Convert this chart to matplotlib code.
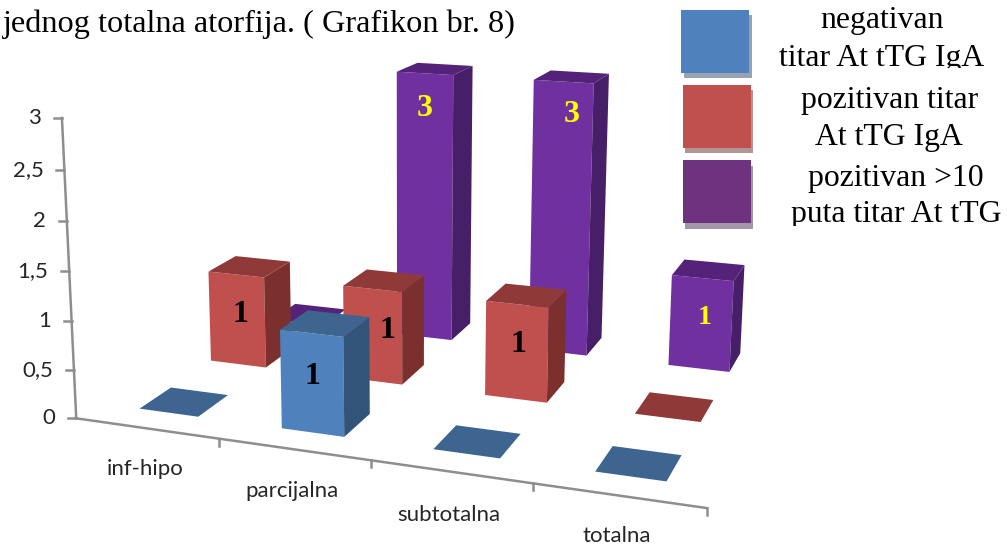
import numpy as np
import matplotlib
matplotlib.use("Agg")
import matplotlib.pyplot as plt
from matplotlib.patches import Polygon, Rectangle

# Data
categories = ["inf-hipo", "parcijalna", "subtotalna", "totalna"]
negativan = [0, 1, 0, 0]
pozitivan = [1, 1, 1, 0]
pozitivan_10 = [0, 3, 3, 1]
y_ticks = [0, 0.5, 1, 1.5, 2, 2.5, 3]
y_tick_labels = ["0", "0,5", "1", "1,5", "2", "2,5", "3"]

# Camera: (category, series, value) -> pixels, fitted to the picture
CAMERA = np.array([
    [135.5785, 90.3069, -5.6254, 76.2357],
    [6.5357, -18.2463, -101.7521, 418.3355],
    [-0.031313, 0.084597, -0.013887, 1.0],
])
HALF = 0.21  # half a bar width, in cells

# front, top, side
BAR_COLORS = [
    ("#4F81BD", "#3D6590", "#335479"),
    ("#C0504D", "#8F3A38", "#7B302E"),
    ("#7030A0", "#542379", "#461F68"),
]
AXIS_COLOR = "#8E8E8E"
LABEL_COLOR = "#262626"
SERIF = "Liberation Serif"


def proj(x, y, z):
    h = CAMERA @ np.array([x, y, z, 1.0])
    return h[0] / h[2], h[1] / h[2]


def draw_bar(ax, i, j, v):
    x0, x1 = i + 0.5 - HALF, i + 0.5 + HALF
    y0, y1 = j + 0.5 - HALF, j + 0.5 + HALF
    front, top, side = BAR_COLORS[j]
    if v > 0:
        ax.add_patch(Polygon([proj(x0, y0, 0), proj(x1, y0, 0), proj(x1, y0, v), proj(x0, y0, v)], fc=front, lw=0))
        ax.add_patch(Polygon([proj(x1, y0, 0), proj(x1, y1, 0), proj(x1, y1, v), proj(x1, y0, v)], fc=side, lw=0))
    ax.add_patch(Polygon([proj(x0, y0, v), proj(x1, y0, v), proj(x1, y1, v), proj(x0, y1, v)], fc=top, lw=0))


fig = plt.figure(figsize=(10.07, 5.45), dpi=100)
ax = fig.add_axes([0, 0, 1, 1])
ax.set_xlim(0, 1007)
ax.set_ylim(545, 0)
ax.axis("off")

# Back row first so the nearer bars cover it
for j, values in reversed(list(enumerate([negativan, pozitivan, pozitivan_10]))):
    for i, v in enumerate(values):
        draw_bar(ax, i, j, v)

# Axes
ax.plot(*zip(proj(0, 0, 0), proj(4, 0, 0)), color=AXIS_COLOR, lw=1.8)
ax.plot(*zip(proj(0, 0, 0), proj(0, 0, 3)), color=AXIS_COLOR, lw=1.8)
for tick, label in zip(y_ticks, y_tick_labels):
    px, py = proj(0, 0, tick)
    ax.plot([px - 8, px], [py, py], color=AXIS_COLOR, lw=1.8)
    ax.text(px - 21, py, label, family="Lato", fontsize=16, color=LABEL_COLOR, ha="right", va="center")
for i in range(1, 5):
    px, py = proj(i, 0, 0)
    ax.plot([px, px], [py, py + 7], color=AXIS_COLOR, lw=1.8)

# Category labels
label_x = [145, 292, 449, 617]
label_y = [475, 497, 521, 542]
for name, lx, ly in zip(categories, label_x, label_y):
    ax.text(lx, ly, name, family="Lato", fontsize=16, color=LABEL_COLOR, ha="center", va="baseline")

# Value labels on the bars
value_labels = [
    ("1", 240, 315, "black", 23),
    ("1", 312, 376, "black", 23),
    ("1", 387, 330, "black", 23),
    ("1", 518, 344, "black", 23),
    ("3", 425, 108, "#FFFF00", 23),
    ("3", 572, 115, "#FFFF00", 23),
    ("1", 705, 318, "#FFFF00", 20),
]
for s, lx, ly, c, size in value_labels:
    ax.text(lx, ly, s, family=SERIF, fontweight="bold", fontsize=size, color=c, ha="center", va="center")

# Heading
ax.text(3, 32, "jednog totalna atorfija. ( Grafikon br. 8)", family=SERIF, fontsize=23.2, color="black", va="baseline")

# Legend boxes
legend_boxes = [
    (681, 10, "#4F81BD", "#97A3B5", 3, 5),
    (683, 85, "#C0504D", "#B39595", 2, 5),
    (683, 160, "#6E327E", "#A097A9", 2, 6),
]
for bx, by, c, shadow, dx, dy in legend_boxes:
    ax.add_patch(Rectangle((bx + dx, by + dy), 68, 63, fc=shadow, lw=0))
    ax.add_patch(Rectangle((bx, by), 68, 63, fc=c, lw=0))

legend_lines = [
    ("negativan", 882, 28, None),
    ("titar At tTG IgA", 882, 66, 68),
    ("pozitivan titar", 890, 108, None),
    ("At tTG IgA", 889, 145, None),
    ("pozitivan >10", 896, 186, None),
    ("puta titar At tTG", 896, 222, 226),
]
for s, lx, ly, clip_bottom in legend_lines:
    t = ax.text(lx, ly, s, family=SERIF, fontsize=22.9, color="black", ha="center", va="baseline")
    if clip_bottom is not None:
        # the original text box cuts off the descenders
        t.set_clip_path(Rectangle((660, 0), 347, clip_bottom, transform=ax.transData))
        t.set_clip_on(True)

fig.savefig("out.png", dpi=100)
